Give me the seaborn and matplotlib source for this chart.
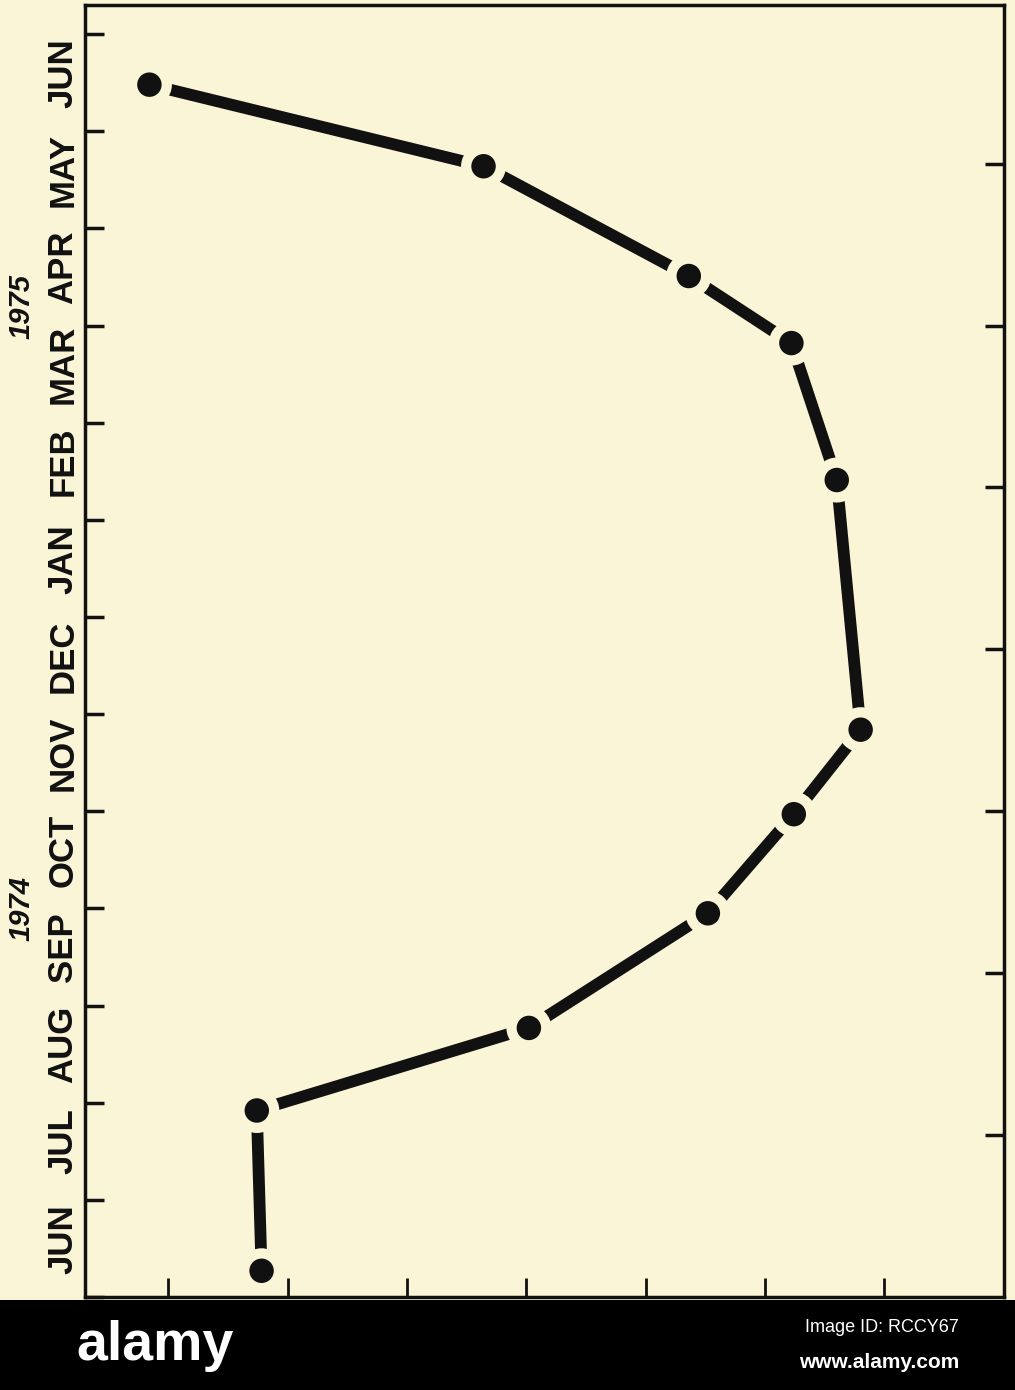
import numpy as np
import pandas as pd
import matplotlib
matplotlib.use('Agg')
import matplotlib.pyplot as plt
import seaborn as sns

# ── Data (months since 1 Jun 1974, index value) ──────────
month_pos = [12.48, 11.64, 10.51, 9.82, 8.41, 5.84, 4.97, 3.95, 2.77, 1.92, 0.27]
index_val = [0.42, 1.82, 2.68, 3.11, 3.30, 3.40, 3.12, 2.76, 2.01, 0.87, 0.89]
month_labels = ['JUN', 'JUL', 'AUG', 'SEP', 'OCT', 'NOV', 'DEC',
                'JAN', 'FEB', 'MAR', 'APR', 'MAY', 'JUN']
year_labels = ['1974', '1975']
year_pos = [4.0, 10.2]
value_ticks = [0.5, 1.0, 1.5, 2.0, 2.5, 3.0, 3.5]

df = pd.DataFrame({'month': month_pos, 'value': index_val})

# ── Style ────────────────────────────────────────────────
PAPER = '#faf5d6'
INK = '#111111'
sns.set_style('white')
plt.rcParams['font.family'] = ['Liberation Sans', 'DejaVu Sans']

fig = plt.figure(figsize=(10.15, 13.9), dpi=100, facecolor=PAPER)
ax = fig.add_axes([0.0837, 0.0669, 0.9053, 0.9295])
ax.set_facecolor(PAPER)

sns.lineplot(data=df, x='value', y='month', sort=False, estimator=None,
             color=INK, linewidth=8.5, ax=ax, zorder=2)
sns.scatterplot(data=df, x='value', y='month', s=1050, color=PAPER,
                edgecolor='none', ax=ax, zorder=3)
sns.scatterplot(data=df, x='value', y='month', s=310, color=INK,
                edgecolor='none', ax=ax, zorder=4)

ax.set_xlim(0.15, 4.0)
ax.set_ylim(0, 13.3)
ax.set_xlabel('')
ax.set_ylabel('')

# month boundaries as major ticks, labels at mid-month
ax.set_yticks(np.arange(0, 14))
ax.set_yticklabels([])
ax.set_yticks(np.arange(len(month_labels)) + 0.6, minor=True)
ax.set_yticklabels(month_labels, minor=True, rotation=90, va='center',
                   fontsize=25, fontweight='bold', color=INK)
ax.tick_params(axis='y', which='major', direction='in', length=14, width=2.5,
               color=INK, left=True, right=False)
ax.tick_params(axis='y', which='minor', length=0, pad=4, left=True)

ax.set_xticks(value_ticks)
ax.set_xticklabels([])
ax.tick_params(axis='x', direction='in', length=14, width=2, color=INK,
               bottom=True, top=False)

# right-hand ticks every 5/3 month
sec = ax.secondary_yaxis('right')
sec.set_yticks(np.arange(1, 8) * 5 / 3)
sec.set_yticklabels([])
sec.tick_params(direction='in', length=14, width=2.5, color=INK)
sec.spines['right'].set_visible(False)

for s in ax.spines.values():
    s.set_color(INK)
    s.set_linewidth(2.5)

for yr, yp in zip(year_labels, year_pos):
    ax.text(-0.069, yp, yr, transform=ax.get_yaxis_transform(), rotation=90,
            ha='center', va='center', fontsize=21, fontweight='bold',
            fontstyle='italic', color=INK)

# bottom banner of the scanned page
fig.patches.append(plt.Rectangle((0, 0), 1, 0.0647, transform=fig.transFigure,
                                 facecolor='black', edgecolor='none', zorder=0))
fig.text(0.075, 0.032, 'alamy', color='white', fontsize=40, fontweight='bold',
         va='center', ha='left')
fig.text(0.945, 0.045, 'Image ID: RCCY67', color='white', fontsize=13,
         va='center', ha='right')
fig.text(0.945, 0.02, 'www.alamy.com', color='white', fontsize=15,
         fontweight='bold', va='center', ha='right')

fig.savefig('out.png', dpi=100, facecolor=PAPER)
